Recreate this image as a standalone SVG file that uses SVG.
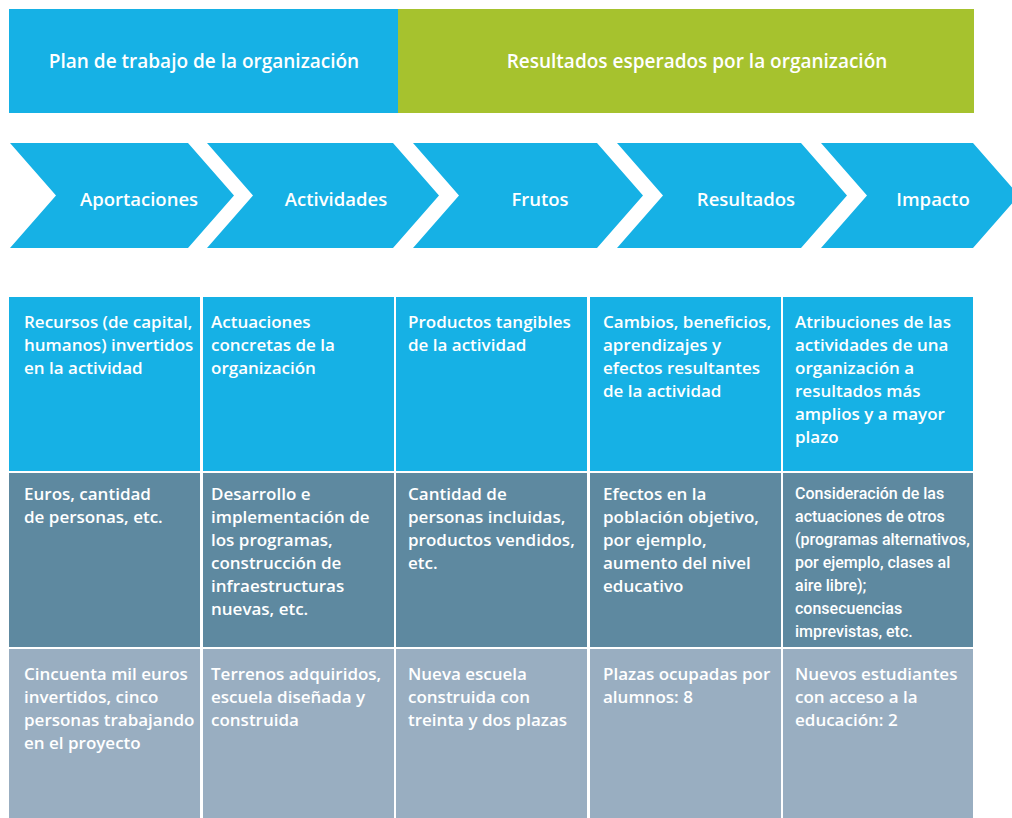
<svg xmlns="http://www.w3.org/2000/svg" width="1012" height="818" viewBox="0 0 1012 818">
<style>
.t{font-family:"Open Sans","Noto Sans",sans-serif;fill:#fff;font-weight:600;}
.h{font-size:19px;text-anchor:middle;}
.c{font-size:18.5px;text-anchor:middle;}
.b{font-size:17px;}
.n{font-family:"Roboto","Open Sans",sans-serif;font-size:16px;font-weight:500;fill:#fff;}
.blue{fill:#16b1e5;}
.green{fill:#a6c22e;}
.r2{fill:#5e89a0;}
.r3{fill:#99aec1;}
</style>
<rect width="1012" height="818" fill="#fff"/>
<g id="header">
<rect class="blue" x="9" y="9" width="389" height="104"/>
<rect class="green" x="398" y="9" width="576" height="104"/>
<text class="t h" x="204" y="68">Plan de trabajo de la organización</text>
<text class="t h" x="697" y="68">Resultados esperados por la organización</text>
</g>
<g id="chevron-aportaciones">
<polygon class="blue" points="10,143 188,143 234,195.5 188,248 10,248 56,195.5"/>
<text class="t c" x="139" y="206">Aportaciones</text>
</g>
<g id="chevron-actividades">
<polygon class="blue" points="207,143 393,143 439,195.5 393,248 207,248 253,195.5"/>
<text class="t c" x="336" y="206">Actividades</text>
</g>
<g id="chevron-frutos">
<polygon class="blue" points="413,143 597,143 643,195.5 597,248 413,248 459,195.5"/>
<text class="t c" x="540" y="206">Frutos</text>
</g>
<g id="chevron-resultados">
<polygon class="blue" points="617,143 801,143 847,195.5 801,248 617,248 663,195.5"/>
<text class="t c" x="746" y="206">Resultados</text>
</g>
<g id="chevron-impacto">
<polygon class="blue" points="821,143 973,143 1019,195.5 973,248 821,248 867,195.5"/>
<text class="t c" x="933" y="206">Impacto</text>
</g>
<g id="row1">
<rect class="blue" x="9" y="297" width="191" height="174"/>
<rect class="blue" x="203" y="297" width="191" height="174"/>
<rect class="blue" x="396" y="297" width="191" height="174"/>
<rect class="blue" x="590" y="297" width="191" height="174"/>
<rect class="blue" x="783" y="297" width="190" height="174"/>
<text class="t b" x="24" y="328"><tspan x="24">Recursos (de capital,</tspan><tspan x="24" dy="23">humanos) invertidos</tspan><tspan x="24" dy="23">en la actividad</tspan></text>
<text class="t b" x="211" y="328"><tspan x="211">Actuaciones</tspan><tspan x="211" dy="23">concretas de la</tspan><tspan x="211" dy="23">organización</tspan></text>
<text class="t b" x="408" y="328"><tspan x="408">Productos tangibles</tspan><tspan x="408" dy="23">de la actividad</tspan></text>
<text class="t b" x="603" y="328"><tspan x="603">Cambios, beneficios,</tspan><tspan x="603" dy="23">aprendizajes y</tspan><tspan x="603" dy="23">efectos resultantes</tspan><tspan x="603" dy="23">de la actividad</tspan></text>
<text class="t b" x="795" y="328"><tspan x="795">Atribuciones de las</tspan><tspan x="795" dy="23">actividades de una</tspan><tspan x="795" dy="23">organización a</tspan><tspan x="795" dy="23">resultados más</tspan><tspan x="795" dy="23">amplios y a mayor</tspan><tspan x="795" dy="23">plazo</tspan></text>
</g>
<g id="row2">
<rect class="r2" x="9" y="473" width="191" height="174"/>
<rect class="r2" x="203" y="473" width="191" height="174"/>
<rect class="r2" x="396" y="473" width="191" height="174"/>
<rect class="r2" x="590" y="473" width="191" height="174"/>
<rect class="r2" x="783" y="473" width="190" height="174"/>
<text class="t b" x="24" y="500"><tspan x="24">Euros, cantidad</tspan><tspan x="24" dy="23">de personas, etc.</tspan></text>
<text class="t b" x="211" y="500"><tspan x="211">Desarrollo e</tspan><tspan x="211" dy="23">implementación de</tspan><tspan x="211" dy="23">los programas,</tspan><tspan x="211" dy="23">construcción de</tspan><tspan x="211" dy="23">infraestructuras</tspan><tspan x="211" dy="23">nuevas, etc.</tspan></text>
<text class="t b" x="408" y="500"><tspan x="408">Cantidad de</tspan><tspan x="408" dy="23">personas incluidas,</tspan><tspan x="408" dy="23">productos vendidos,</tspan><tspan x="408" dy="23">etc.</tspan></text>
<text class="t b" x="603" y="500"><tspan x="603">Efectos en la</tspan><tspan x="603" dy="23">población objetivo,</tspan><tspan x="603" dy="23">por ejemplo,</tspan><tspan x="603" dy="23">aumento del nivel</tspan><tspan x="603" dy="23">educativo</tspan></text>
<text class="n" x="795" y="499"><tspan x="795">Consideración de las</tspan><tspan x="795" dy="23">actuaciones de otros</tspan><tspan x="795" dy="23">(programas alternativos,</tspan><tspan x="795" dy="23">por ejemplo, clases al</tspan><tspan x="795" dy="23">aire libre);</tspan><tspan x="795" dy="23">consecuencias</tspan><tspan x="795" dy="23">imprevistas, etc.</tspan></text>
</g>
<g id="row3">
<rect class="r3" x="9" y="649" width="191" height="169"/>
<rect class="r3" x="203" y="649" width="191" height="169"/>
<rect class="r3" x="396" y="649" width="191" height="169"/>
<rect class="r3" x="590" y="649" width="191" height="169"/>
<rect class="r3" x="783" y="649" width="190" height="169"/>
<text class="t b" x="24" y="680"><tspan x="24">Cincuenta mil euros</tspan><tspan x="24" dy="23">invertidos, cinco</tspan><tspan x="24" dy="23">personas trabajando</tspan><tspan x="24" dy="23">en el proyecto</tspan></text>
<text class="t b" x="211" y="680"><tspan x="211">Terrenos adquiridos,</tspan><tspan x="211" dy="23">escuela diseñada y</tspan><tspan x="211" dy="23">construida</tspan></text>
<text class="t b" x="408" y="680"><tspan x="408">Nueva escuela</tspan><tspan x="408" dy="23">construida con</tspan><tspan x="408" dy="23">treinta y dos plazas</tspan></text>
<text class="t b" x="603" y="680"><tspan x="603">Plazas ocupadas por</tspan><tspan x="603" dy="23">alumnos: 8</tspan></text>
<text class="t b" x="795" y="680"><tspan x="795">Nuevos estudiantes</tspan><tspan x="795" dy="23">con acceso a la</tspan><tspan x="795" dy="23">educación: 2</tspan></text>
</g>
</svg>
